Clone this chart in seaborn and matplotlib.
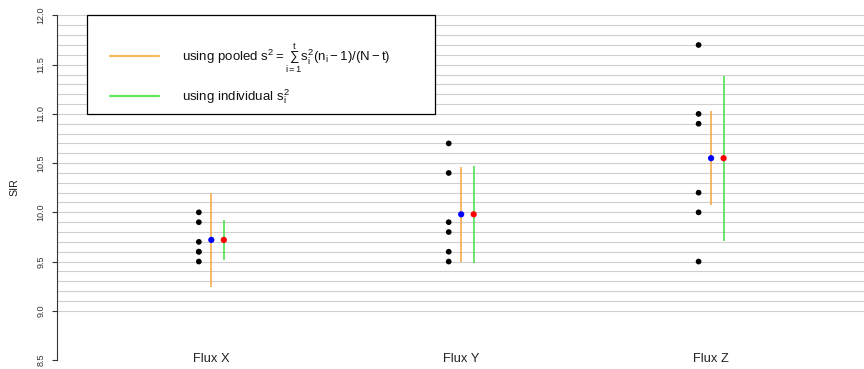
import numpy as np
import pandas as pd
import seaborn as sns
import matplotlib
matplotlib.use("Agg")
import matplotlib.pyplot as plt
from matplotlib.patches import Rectangle

# ---------------- data ----------------
categories = ["Flux X", "Flux Y", "Flux Z"]
obs_flux_x = [10.0, 9.9, 9.7, 9.6, 9.6, 9.5]
obs_flux_y = [10.7, 10.4, 9.9, 9.8, 9.6, 9.5]
obs_flux_z = [11.7, 11.0, 10.9, 10.2, 10.0, 9.5]
group_means = [9.72, 9.98, 10.55]
pooled_halfwidth = [0.48, 0.48, 0.48]
individual_halfwidth = [0.205, 0.495, 0.84]
y_ticks = [8.5, 9.0, 9.5, 10.0, 10.5, 11.0, 11.5, 12.0]
legend_labels = [r"using pooled $\mathregular{s^2 = \sum_{i=1}^{t} s_i^2 (n_i - 1)/(N - t)}$",
                 r"using individual $\mathregular{s_i^2}$"]

# ---------------- style ----------------
sns.set_style("white")
plt.rcParams["font.family"] = ["Liberation Sans", "DejaVu Sans"]
plt.rcParams["mathtext.fontset"] = "custom"
plt.rcParams["mathtext.rm"] = "Liberation Sans"
plt.rcParams["mathtext.it"] = "Liberation Sans"
plt.rcParams["mathtext.bf"] = "Liberation Sans:bold"
plt.rcParams["mathtext.sf"] = "Liberation Sans"

ORANGE = "#f5a53c"
GREEN = "#44e044"
FIG_W, FIG_H = 864, 369
AX_L = 57

fig = plt.figure(figsize=(FIG_W / 100, FIG_H / 100), dpi=100)
ax = fig.add_axes([AX_L / FIG_W, 0.0, (FIG_W - AX_L) / FIG_W, 1.0])

obs = pd.DataFrame({
    "group": np.repeat(np.arange(len(categories)),
                       [len(obs_flux_x), len(obs_flux_y), len(obs_flux_z)]),
    "SIR": obs_flux_x + obs_flux_y + obs_flux_z,
})
means = pd.DataFrame({"group": np.arange(len(categories)), "SIR": group_means})

dot_off, mean_off, ind_off = -0.05, 0.0, 0.05

# grid lines
for g in np.round(np.arange(9.0, 12.001, 0.1), 1):
    ax.axhline(g, color="#cfcfcf", lw=0.8, zorder=0)

sns.scatterplot(x=obs["group"] + dot_off, y=obs["SIR"], color="black", s=17,
                edgecolor="none", ax=ax, zorder=3, legend=False)

ax.vlines(means["group"] + mean_off,
          means["SIR"] - np.array(pooled_halfwidth),
          means["SIR"] + np.array(pooled_halfwidth),
          color=ORANGE, lw=1.1, zorder=2)
ax.vlines(means["group"] + ind_off,
          means["SIR"] - np.array(individual_halfwidth),
          means["SIR"] + np.array(individual_halfwidth),
          color=GREEN, lw=1.1, zorder=2)

sns.scatterplot(x=means["group"] + mean_off, y=means["SIR"], color="#0000ff",
                s=20, edgecolor="none", ax=ax, zorder=4, legend=False)
sns.scatterplot(x=means["group"] + ind_off, y=means["SIR"], color="#ff0000",
                s=20, edgecolor="none", ax=ax, zorder=4, legend=False)

# axes
ax.set_xlim(-0.6176, 2.612)
ax.set_ylim(8.4086, 12.157)
for s in ["top", "right", "bottom"]:
    ax.spines[s].set_visible(False)
ax.spines["left"].set_bounds(8.5, 12.0)
ax.spines["left"].set_color("#333333")
ax.spines["left"].set_linewidth(0.8)

ax.set_yticks(y_ticks)
ax.set_yticklabels([f"{v:.1f}" for v in y_ticks], rotation=90, va="center",
                   fontsize=6.5, color="#333333")
ax.tick_params(axis="y", length=3.6, width=0.8, pad=4.5, color="#333333", left=True)

ax.set_xticks(range(len(categories)))
ax.set_xticklabels(categories, fontsize=9.3, color="#222222")
ax.tick_params(axis="x", length=0, pad=-11.7)

ax.set_xlabel("")
ax.set_ylabel("SIR", fontsize=7.7, color="#222222")
ax.yaxis.set_label_coords(-0.046, 0.493)

# legend box (drawn in axes fraction coordinates)
def ax_xy(px, py):
    return ((px - AX_L) / (FIG_W - AX_L), (FIG_H - py) / FIG_H)

x0, y0 = ax_xy(86.7, 114)
x1, y1 = ax_xy(435, 15.3)
ax.add_patch(Rectangle((x0, y0), x1 - x0, y1 - y0, transform=ax.transAxes,
                       facecolor="white", edgecolor="black", lw=0.9,
                       zorder=10, clip_on=False))
legend_colors = ["#f8bb5c", "#5ee85e"]
for lab, col, py, ty in zip(legend_labels, legend_colors, [55.7, 96.0], [58.5, 96.5]):
    hx0, hy = ax_xy(110, py)
    hx1, _ = ax_xy(159, py)
    ax.plot([hx0, hx1], [hy, hy], transform=ax.transAxes, color=col, lw=1.6,
            zorder=11, clip_on=False)
    tx, tyy = ax_xy(182.3, ty)
    ax.text(tx, tyy, lab, transform=ax.transAxes, fontsize=9.5, va="center",
            ha="left", color="#111111", zorder=11)

fig.savefig("out.png", dpi=100)
